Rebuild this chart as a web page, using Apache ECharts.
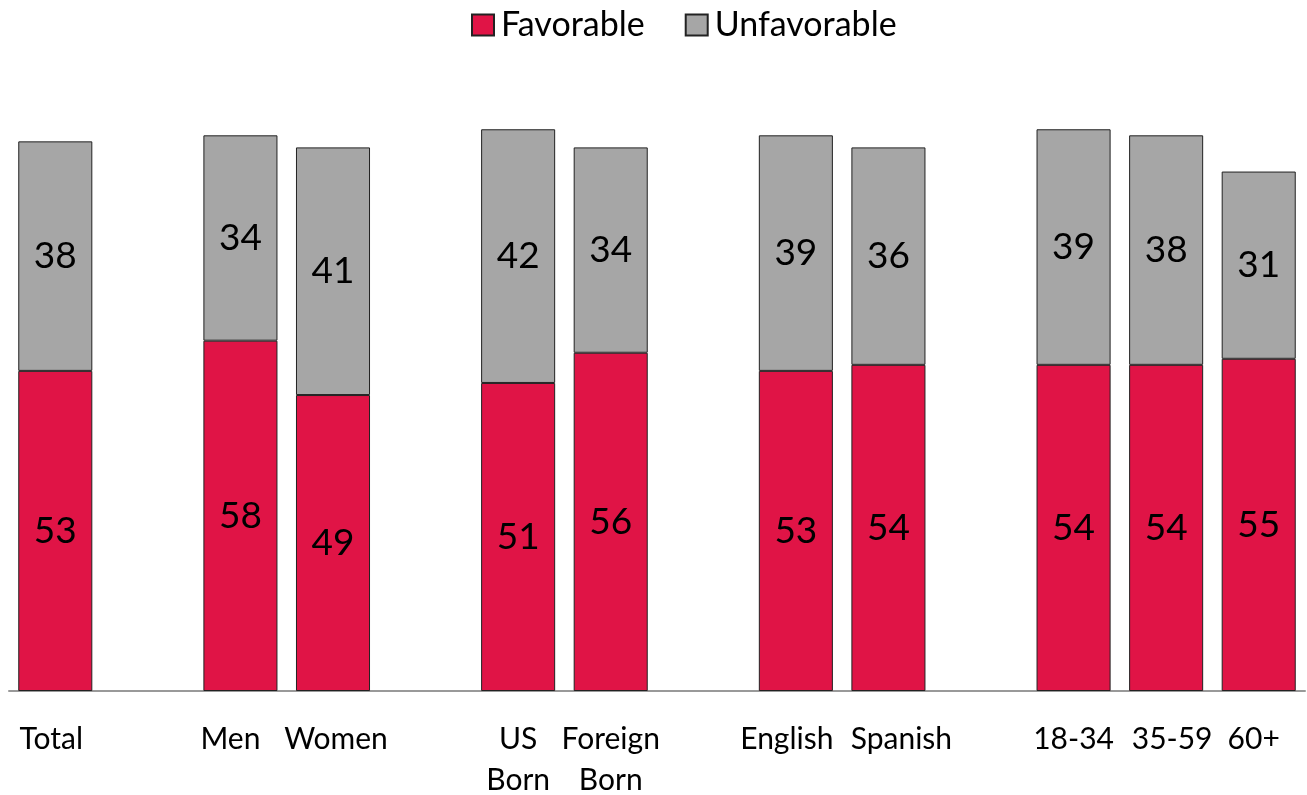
<!DOCTYPE html>
<html><head><meta charset="utf-8">
<script src="https://cdn.jsdelivr.net/npm/echarts@6/dist/echarts.min.js"></script>
<style>html,body{margin:0;padding:0;background:#fff}#c{width:1307px;height:795px}</style>
</head><body><div id="c"></div>
<script>
const categories = ['Total', '', 'Men', 'Women', '', 'US\nBorn', 'Foreign\nBorn', '', 'English', 'Spanish', '', '18-34', '35-59', '60+'];
const favorable = [53, null, 58, 49, null, 51, 56, null, 53, 54, null, 54, 54, 55];
const unfavorable = [38, null, 34, 41, null, 42, 34, null, 39, 36, null, 39, 38, 31];
const seriesNames = ['Favorable', 'Unfavorable'];

// horizontal nudges (px) for some category labels, styling only
const labelNudge = {'Total': -4, 'Men': -10, 'Women': 3, 'English': -9, 'Spanish': 13, '35-59': 6, '60+': -5};

const FONT = 'Lato';
const chart = echarts.init(document.getElementById('c'));
const labelCfg = {show: true, position: 'inside', color: '#000', fontSize: 37, fontFamily: FONT};
const axisData = categories.map(c => {
  const n = labelNudge[c];
  if (!n) return c;
  return {value: c, textStyle: {padding: n < 0 ? [0, -2 * n, 0, 0] : [0, 0, 0, 2 * n]}};
});
chart.setOption({
  animation: false,
  textStyle: {fontFamily: FONT},
  legend: {
    top: 3, left: 466, itemWidth: 22, itemHeight: 21, itemGap: 40,
    icon: 'rect',
    textStyle: {fontSize: 34, color: '#000', fontFamily: FONT, padding: [0, 0, 0, 2]},
    data: seriesNames
  },
  grid: {left: 9, right: 2, top: 87, bottom: 104, containLabel: false, outerBoundsMode: 'none'},
  xAxis: {
    type: 'category', data: axisData,
    axisLine: {lineStyle: {color: '#999', width: 2}},
    axisTick: {show: false},
    axisLabel: {color: '#000', fontSize: 30, fontFamily: FONT, margin: 28, lineHeight: 41, interval: 0, hideOverlap: false}
  },
  yAxis: {type: 'value', min: 0, max: 100, show: false, splitLine: {show: false}},
  series: [
    {name: seriesNames[0], type: 'bar', stack: 's', data: favorable, barCategoryGap: '20%',
     itemStyle: {color: '#E01446', borderColor: '#222', borderWidth: 1}, label: labelCfg},
    {name: seriesNames[1], type: 'bar', stack: 's', data: unfavorable,
     itemStyle: {color: '#A6A6A6', borderColor: '#222', borderWidth: 1}, label: labelCfg}
  ]
});
</script></body></html>
